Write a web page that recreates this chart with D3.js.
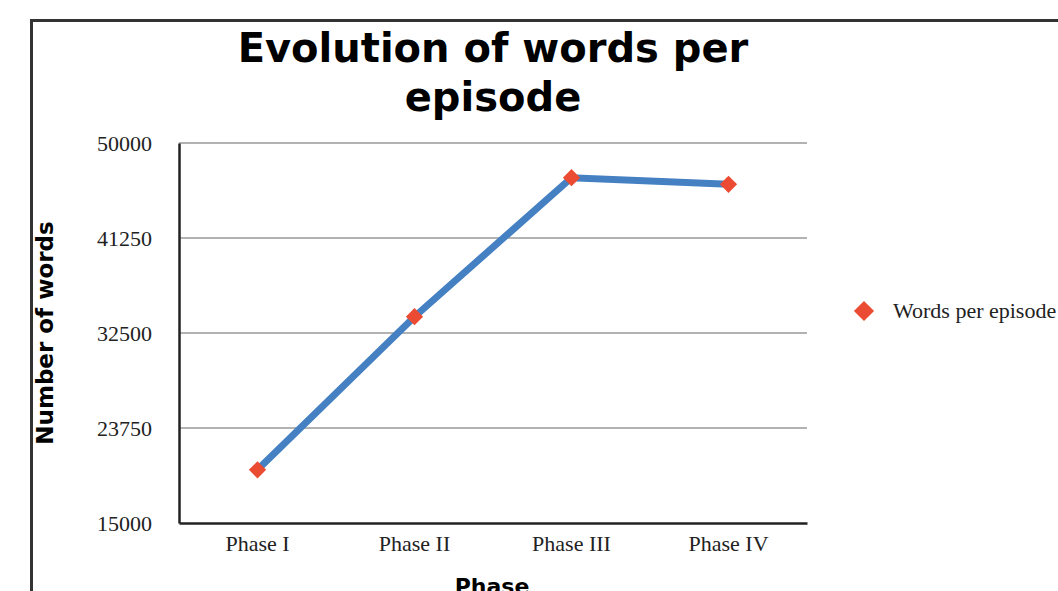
<!DOCTYPE html>
<html>
<head>
<meta charset="utf-8">
<script src="https://cdn.jsdelivr.net/npm/d3@7"></script>
<style>
    body { margin: 0; background: #fff; }
    svg { display: block; }
</style>
</head>
<body>
<div id="chart"></div>
<script>
    'use strict';

    var phases = ['Phase I', 'Phase II', 'Phase III', 'Phase IV'];
    var wordsPerEpisode = [19900, 34000, 46800, 46200];
    var yTicks = [15000, 23750, 32500, 41250, 50000];
    var seriesName = 'Words per episode';

    var width = 1058;
    var height = 591;

    var plot = { left: 179, top: 143, right: 807, bottom: 523 };

    var serifFont = '"Liberation Serif", "Times New Roman", serif';
    var boldFont = '"DejaVu Sans", Verdana, sans-serif';

    var svg = d3.select('#chart')
        .append('svg')
        .attr('width', width)
        .attr('height', height);

    // outer frame (runs off the right and bottom edge)
    svg.append('rect')
        .attr('x', 31.5)
        .attr('y', 20.5)
        .attr('width', 1100)
        .attr('height', 700)
        .attr('fill', '#fff')
        .attr('stroke', '#333')
        .attr('stroke-width', 3);

    var x = d3.scaleBand()
        .domain(phases)
        .range([plot.left, plot.right]);

    var y = d3.scaleLinear()
        .domain([15000, 50000])
        .range([plot.bottom, plot.top]);

    // grid lines
    svg.append('g')
        .selectAll('line')
        .data(yTicks.slice(1))
        .enter()
        .append('line')
        .attr('x1', plot.left)
        .attr('x2', plot.right)
        .attr('y1', function (d) { return y(d); })
        .attr('y2', function (d) { return y(d); })
        .attr('stroke', '#999')
        .attr('stroke-width', 1.5);

    var yAxis = svg.append('g')
        .attr('transform', 'translate(' + plot.left + ',0)')
        .call(d3.axisLeft(y).tickValues(yTicks).tickSize(0).tickPadding(27).tickFormat(d3.format('d')));
    yAxis.select('.domain').attr('stroke', '#222').attr('stroke-width', 2.5);
    yAxis.selectAll('text')
        .attr('font-family', serifFont)
        .attr('font-size', 22)
        .attr('fill', '#222');

    var xAxis = svg.append('g')
        .attr('transform', 'translate(0,' + plot.bottom + ')')
        .call(d3.axisBottom(x).tickSize(0).tickPadding(12));
    xAxis.select('.domain').attr('stroke', '#222').attr('stroke-width', 2.5);
    xAxis.selectAll('text')
        .attr('font-family', serifFont)
        .attr('font-size', 22)
        .attr('fill', '#222');

    var line = d3.line()
        .x(function (d, i) { return x(phases[i]) + x.bandwidth() / 2; })
        .y(function (d) { return y(d); });

    svg.append('path')
        .datum(wordsPerEpisode)
        .attr('d', line)
        .attr('fill', 'none')
        .attr('stroke', '#4480C2')
        .attr('stroke-width', 7);

    var diamond = d3.symbol().type(d3.symbolDiamond2).size(190);

    svg.append('g')
        .selectAll('path')
        .data(wordsPerEpisode)
        .enter()
        .append('path')
        .attr('d', diamond)
        .attr('transform', function (d, i) {
            return 'translate(' + (x(phases[i]) + x.bandwidth() / 2) + ',' + y(d) + ')';
        })
        .attr('fill', '#EC4B33');

    // titles
    svg.append('text')
        .attr('x', 493)
        .attr('y', 62)
        .attr('text-anchor', 'middle')
        .attr('font-family', boldFont)
        .attr('font-weight', 'bold')
        .attr('font-size', 40)
        .text('Evolution of words per');

    svg.append('text')
        .attr('x', 493)
        .attr('y', 111)
        .attr('text-anchor', 'middle')
        .attr('font-family', boldFont)
        .attr('font-weight', 'bold')
        .attr('font-size', 40)
        .text('episode');

    svg.append('text')
        .attr('transform', 'translate(53,333) rotate(-90)')
        .attr('text-anchor', 'middle')
        .attr('font-family', boldFont)
        .attr('font-weight', 'bold')
        .attr('font-size', 23)
        .text('Number of words');

    svg.append('text')
        .attr('x', 492)
        .attr('y', 594)
        .attr('text-anchor', 'middle')
        .attr('font-family', boldFont)
        .attr('font-weight', 'bold')
        .attr('font-size', 22)
        .text('Phase');

    // legend
    var legend = svg.append('g')
        .attr('transform', 'translate(864,311)');
    legend.append('path')
        .attr('d', d3.symbol().type(d3.symbolDiamond2).size(260))
        .attr('fill', '#EC4B33');
    legend.append('text')
        .attr('x', 29)
        .attr('y', 7)
        .attr('font-family', serifFont)
        .attr('font-size', 22)
        .attr('fill', '#222')
        .text(seriesName);
</script>
</body>
</html>
